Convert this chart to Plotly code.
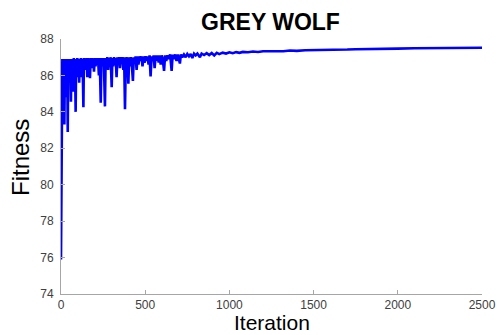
import plotly.graph_objects as go

# Hand-read samples of the convergence curve (iteration, fitness)
iteration = [0, 2, 4, 6, 8, 11, 14, 18, 20, 23, 27, 30, 34, 37, 40, 43, 47, 50, 53, 56,
             59, 62, 66, 69, 73, 76, 80, 83, 87, 90, 94, 97, 101, 104, 108, 111, 115, 118, 122, 125,
             129, 133, 136, 140, 144, 148, 152, 156, 160, 164, 168, 172, 176, 180, 184, 188, 192, 196, 200, 205,
             210, 215, 220, 225, 230, 236, 240, 245, 250, 255, 261, 265, 270, 275, 280, 285, 290, 295, 301, 305,
             310, 315, 320, 325, 330, 335, 340, 345, 350, 355, 360, 365, 370, 375, 380, 385, 390, 395, 400, 405,
             410, 415, 420, 427, 432, 438, 443, 449, 455, 460, 466, 472, 478, 484, 490, 496, 502, 508, 514, 520,
             526, 532, 538, 544, 550, 556, 562, 568, 574, 580, 586, 592, 598, 604, 612, 618, 625, 632, 640, 648,
             657, 663, 670, 678, 686, 694, 700, 706, 712, 720, 730, 740, 750, 760, 770, 780, 790, 800, 810, 825,
             835, 850, 865, 880, 895, 910, 925, 940, 960, 980, 1000, 1020, 1040, 1060, 1080, 1110, 1140, 1170, 1200, 1240,
             1280, 1320, 1360, 1400, 1450, 1500, 1550, 1600, 1650, 1700, 1750, 1800, 1850, 1900, 1950, 2000, 2100, 2200, 2300, 2400,
             2500]
fitness = [75.9, 81.5, 86.8, 84.5, 86.9, 83.8, 86.85, 85.2, 83.3, 86.9, 85.8, 86.8, 84.8, 86.9, 82.9, 86.85, 85.6, 86.9, 86.0, 86.8,
           84.55, 86.9, 85.9, 86.85, 85.1, 86.95, 86.2, 86.85, 84.0, 86.9, 85.9, 86.95, 86.3, 86.9, 85.6, 86.9, 86.4, 86.95, 85.9, 86.9,
           86.5, 84.25, 86.95, 86.3, 86.9, 86.6, 86.95, 85.9, 86.95, 86.5, 86.9, 85.85, 86.95, 86.4, 86.95, 86.6, 86.9, 86.2, 86.95, 86.5,
           86.95, 86.6, 86.95, 86.0, 86.95, 84.5, 86.95, 86.5, 86.95, 86.6, 84.3, 86.95, 86.5, 87.0, 86.3, 86.95, 86.6, 87.0, 85.35, 86.95,
           86.5, 87.0, 86.6, 86.95, 85.9, 87.0, 86.6, 87.0, 86.4, 87.0, 86.7, 87.0, 86.3, 87.0, 84.15, 87.0, 86.7, 87.0, 85.55, 87.0,
           86.5, 87.0, 86.7, 85.7, 87.0, 86.7, 87.05, 86.3, 87.05, 86.6, 87.05, 86.8, 87.05, 86.5, 87.05, 86.7, 87.05, 86.8, 87.05, 86.6,
           87.1, 85.95, 87.05, 86.8, 87.1, 86.4, 87.1, 86.8, 87.1, 86.7, 87.1, 86.6, 87.1, 86.9, 86.25, 87.1, 86.8, 87.1, 86.9, 87.15,
           86.25, 87.15, 86.9, 87.15, 86.8, 87.15, 86.95, 86.65, 87.15, 87.0, 87.15, 87.0, 87.18, 87.05, 87.18, 86.95, 87.2, 87.1, 87.2, 87.0,
           87.2, 87.12, 87.22, 87.12, 87.23, 87.1, 87.24, 87.17, 87.25, 87.2, 87.27, 87.22, 87.28, 87.24, 87.29, 87.27, 87.31, 87.29, 87.33, 87.32,
           87.35, 87.33, 87.37, 87.35, 87.38, 87.38, 87.4, 87.4, 87.42, 87.42, 87.44, 87.44, 87.45, 87.45, 87.46, 87.47, 87.49, 87.5, 87.51, 87.52,
           87.52]

x_ticks = [0, 500, 1000, 1500, 2000, 2500]
y_ticks = [74, 76, 78, 80, 82, 84, 86, 88]

W, H = 497, 335
L, R, T, B = 61, 482, 39, 294

fig = go.Figure()
fig.add_trace(go.Scatter(x=iteration, y=fitness, mode="lines",
                         line=dict(color="#0000ff", width=2.6), showlegend=False))

font = "Liberation Sans, Arial, Helvetica, sans-serif"
axis_common = dict(showgrid=False, zeroline=False, showline=True, linecolor="#a6a6a6",
                   linewidth=1, ticks="inside", ticklen=4, tickcolor="#a6a6a6",
                   tickfont=dict(family=font, size=12, color="#404040"), mirror=False,
                   automargin=False)

fig.update_layout(
    width=W, height=H,
    margin=dict(l=L, r=W - R, t=T, b=H - B),
    paper_bgcolor="white", plot_bgcolor="white",
    xaxis=dict(range=[0, 2500], tickvals=x_ticks, **axis_common),
    yaxis=dict(range=[74, 88], tickvals=y_ticks, ticklabelstandoff=4, **axis_common),
    title=dict(text="<b>GREY WOLF</b>", x=270.5 / W, xref="container", xanchor="center",
               y=1 - 21.5 / H, yref="container", yanchor="middle",
               font=dict(family=font, size=23, color="black")),
)

fig.add_annotation(text="Fitness", xref="paper", yref="paper",
                   x=(20 - L) / (R - L), y=(B - 158) / (B - T), textangle=-90,
                   xanchor="center", yanchor="middle", showarrow=False,
                   font=dict(family=font, size=24, color="black"))
fig.add_annotation(text="Iteration", xref="paper", yref="paper",
                   x=(271.5 - L) / (R - L), y=(B - 322.5) / (B - T),
                   xanchor="center", yanchor="middle", showarrow=False,
                   font=dict(family=font, size=21, color="black"))

fig.write_html("out.html")
